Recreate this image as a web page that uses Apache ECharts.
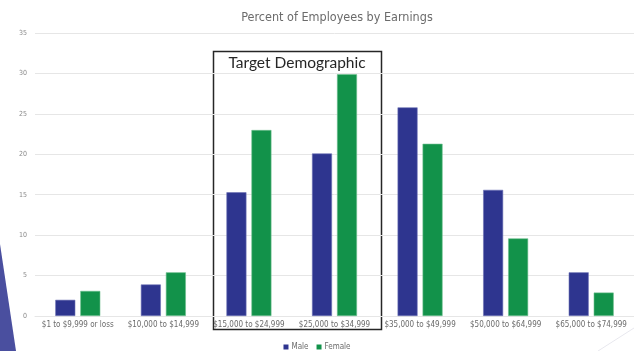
<!DOCTYPE html>
<html><head><meta charset="utf-8">
<script src="https://cdn.jsdelivr.net/npm/echarts@6/dist/echarts.min.js"></script>
<style>html,body{margin:0;padding:0;background:#fff}#c{width:634px;height:351px}</style>
</head><body><div id="c"></div>
<script>
const categories = ['$1 to $9,999 or loss','$10,000 to $14,999','$15,000 to $24,999','$25,000 to $34,999','$35,000 to $49,999','$50,000 to $64,999','$65,000 to $74,999'];
const male = [2.0, 3.9, 15.3, 20.1, 25.8, 15.6, 5.4];
const female = [3.1, 5.4, 23.0, 29.9, 21.3, 9.6, 2.9];
const yTicks = [0, 5, 10, 15, 20, 25, 30, 35];
const FONT = "'Liberation Sans Narrow','DejaVu Sans Condensed','Liberation Sans',sans-serif";
const chart = echarts.init(document.getElementById('c'));
chart.setOption({
  animation: false,
  title: {text: 'Percent of Employees by Earnings', left: 332, top: 6, textAlign: 'center',
    textStyle: {fontFamily: FONT, fontSize: 12.5, fontWeight: 'normal', color: '#6b6b6b'}},
  legend: {top: 338, left: 'center', itemWidth: 5, itemHeight: 5, itemGap: 8, icon: 'rect',
    itemStyle: {borderWidth: 0},
    textStyle: {fontFamily: FONT, fontSize: 8, color: '#6b6b6b', padding: [0,0,0,-2]},
    data: ['Male','Female']},
  grid: {left: 35, width: 606, top: 33, bottom: 35},
  xAxis: {type: 'category', data: categories,
    axisLine: {lineStyle: {color: '#e6e6e6'}}, axisTick: {show: false},
    axisLabel: {interval: 0, fontFamily: FONT, fontSize: 8, color: '#6b6b6b', margin: 5}},
  yAxis: {type: 'value', min: yTicks[0], max: yTicks[yTicks.length-1], interval: 5,
    axisLine: {show: false}, axisTick: {show: false},
    splitLine: {lineStyle: {color: '#e6e6e6'}},
    axisLabel: {fontFamily: FONT, fontSize: 7, color: '#8a8a8a', margin: 8}},
  series: [
    {name: 'Male', type: 'bar', data: male, barWidth: 20, barGap: '25%',
      itemStyle: {color: '#2e358f', borderColor: '#6d72b5', borderWidth: 0.6}},
    {name: 'Female', type: 'bar', data: female, barWidth: 20,
      itemStyle: {color: '#12924a', borderColor: '#6fc08f', borderWidth: 0.6}}
  ],
  graphic: [
    {type: 'polygon', silent: true, shape: {points: [[0,244],[16,351],[0,351]]}, style: {fill: '#4a4f9f'}},
    {type: 'line', silent: true, shape: {x1: 598, y1: 351, x2: 634, y2: 328}, style: {stroke: '#e8e8ee', lineWidth: 1}},
    {type: 'rect', silent: true, shape: {x: 213.5, y: 51.5, width: 168, height: 278}, style: {fill: 'none', stroke: '#262626', lineWidth: 1.5}},
    {type: 'text', silent: true, x: 297, y: 55, style: {text: 'Target Demographic', textAlign: 'center', fill: '#262626', fontSize: 15.5, fontFamily: "Lato,'Open Sans',sans-serif"}}
  ]
});
</script></body></html>
